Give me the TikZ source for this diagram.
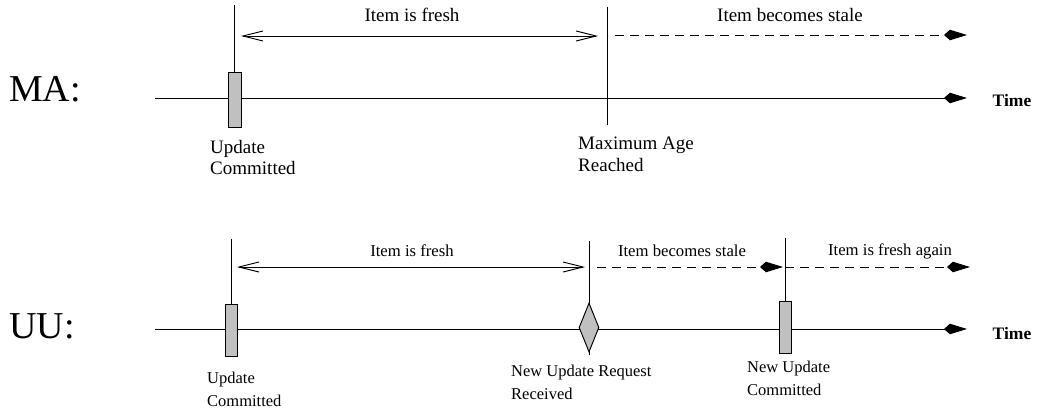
\documentclass[tikz,border=0pt]{standalone}
\usepackage{fontspec}
\setmainfont{Liberation Serif}
\usetikzlibrary{arrows.meta,shapes.geometric}
\definecolor{boxgray}{RGB}{192,192,192}
\tikzset{
  ln/.style={line width=0.95pt},
  axisline/.style={line width=0.95pt,-{Stealth[length=17pt,width=10pt,inset=-6pt]}},
  dashline/.style={line width=0.95pt,dash pattern=on 9pt off 6pt,-{Stealth[length=17pt,width=10pt,inset=-6pt]}},
  freshline/.style={line width=0.95pt,{Straight Barb[length=20pt,width=10pt]}-{Straight Barb[length=20pt,width=10pt]}},
  ubox/.style={draw,line width=0.95pt,fill=boxgray,inner sep=0pt,minimum width=#1},
  rowlabel/.style={font=\fontsize{38}{40}\selectfont,inner sep=0pt},
  timelabel/.style={font=\bfseries\fontsize{17.5}{20}\selectfont,inner sep=0pt},
  biglbl/.style={font=\fontsize{19}{22}\selectfont,inner sep=0pt},
  smalllbl/.style={font=\fontsize{16.7}{22}\selectfont,inner sep=0pt},
  bignote/.style={font=\fontsize{19}{21.5}\selectfont,inner sep=0pt,align=left,anchor=north west},
  smallnote/.style={font=\fontsize{16.5}{22.5}\selectfont,inner sep=0pt,align=left,anchor=north west},
}
\begin{document}
\begin{tikzpicture}[x=1pt,y=-1pt]
\useasboundingbox (0,0) rectangle (1039,412);
% ---------- MA row ----------
\coordinate (maS) at (155,98);
\coordinate (maE) at (967,98);
\draw[axisline] (maS) -- (maE);
\node[ubox=13pt,minimum height=55pt] (ub1) at (234.5,99.5) {};
\coordinate (ub1t) at (234.5,5);
\draw[ln] (ub1t) -- (ub1.north);
\coordinate (maxT) at (607,7);
\coordinate (maxB) at (607,125);
\draw[ln] (maxT) -- (maxB);
\coordinate (f1s) at (241,36);
\coordinate (f1e) at (598,36);
\draw[freshline] (f1s) -- (f1e);
\coordinate (s1s) at (615,35);
\coordinate (s1e) at (967,35);
\draw[dashline] (s1s) -- (s1e);
\node[biglbl] (t1) at (412,15) {Item is fresh};
\node[biglbl] (t2) at (790,15) {Item becomes stale};
\node[rowlabel] (ma) at (45,89) {MA:};
\node[timelabel] (time1) at (1012,101) {Time};
\node[bignote] (n1) at (210,140) {Update\\Committed};
\node[bignote] (n2) at (578,137) {Maximum Age\\Reached};
% ---------- UU row ----------
\coordinate (uuS) at (155,329);
\coordinate (uuE) at (967,329);
\draw[axisline] (uuS) -- (uuE);
\node[ubox=11.5pt,minimum height=52pt] (ub2) at (231.5,330) {};
\coordinate (ub2t) at (231.5,239);
\draw[ln] (ub2t) -- (ub2.north);
\coordinate (reqT) at (589,241);
\coordinate (reqB) at (589,355);
\draw[ln] (reqT) -- (reqB);
\node[diamond,draw,line width=0.95pt,fill=boxgray,inner sep=0pt,aspect=0.41,minimum width=20pt,minimum height=49pt] (req) at (589,327.5) {};
\node[ubox=12pt,minimum height=52pt] (ub3) at (785,327) {};
\coordinate (ub3t) at (785,238);
\draw[ln] (ub3t) -- (ub3.north);
\coordinate (f2s) at (237,267);
\coordinate (f2e) at (585,267);
\draw[freshline] (f2s) -- (f2e);
\coordinate (s2s) at (597,267);
\coordinate (s2e) at (783,267);
\draw[dashline] (s2s) -- (s2e);
\coordinate (f3e) at (970,267);
\draw[dashline] (ub3t |- s2e) -- (f3e);
\node[smalllbl] (t3) at (412,251) {Item is fresh};
\node[smalllbl] (t4) at (682,251) {Item becomes stale};
\node[smalllbl] (t5) at (890,251) {Item is fresh again};
\node[rowlabel] (uu) at (42,326) {UU:};
\node[timelabel] (time2) at (1012,334) {Time};
\node[smallnote] (n3) at (207,372) {Update\\Committed};
\node[smallnote] (n4) at (511,365) {New Update Request\\Received};
\node[smallnote] (n5) at (747,361) {New Update\\Committed};
\end{tikzpicture}
\end{document}
